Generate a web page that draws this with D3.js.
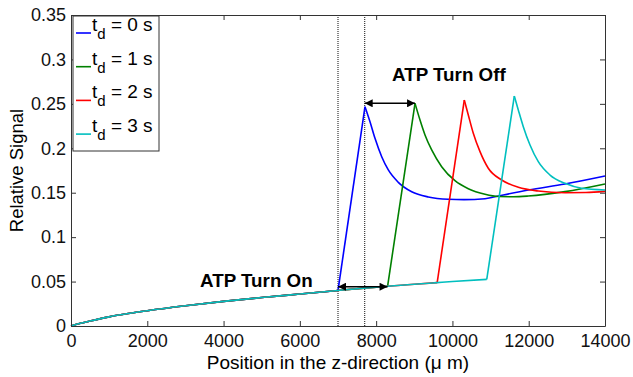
<!DOCTYPE html>
<html>
<head>
<meta charset="utf-8">
<script src="https://cdn.jsdelivr.net/npm/d3@7"></script>
<style>
  body { margin: 0; background: #fff; }
  svg { font-family: "Liberation Sans", Arial, sans-serif; }
  .axis path, .axis line { stroke: #333; }
  .axis text { font-size: 18px; fill: #111; }
</style>
</head>
<body>
<svg width="633" height="377"></svg>
<script>
// shared baseline before ATP turns on (position in um, relative signal)
const baseline = [
  [0, 0], [250, 0.003], [500, 0.0056], [1000, 0.0103], [1500, 0.014],
  [2000, 0.0172], [3000, 0.0228], [4000, 0.0277], [5000, 0.032],
  [6000, 0.036], [7000, 0.0400], [8000, 0.0437], [8300, 0.0447],
  [9000, 0.047], [9600, 0.0488], [10000, 0.050], [10900, 0.0525]
];

const delays = ["0", "1", "2", "3"];
const colors = ["#0000ff", "#008000", "#ff0000", "#00bfbf"];

// onset, peak, then decay points for each delay
const td0 = [
  [7000, 0.040], [7708, 0.2468],
  [7839, 0.2299], [7970, 0.2112], [8146, 0.1905], [8319, 0.1756],
  [8581, 0.1617], [8932, 0.1511], [9367, 0.1452], [9892, 0.1426],
  [10300, 0.1422], [10854, 0.1432], [11116, 0.1455], [11989, 0.153],
  [12951, 0.1598], [14000, 0.1688]
];
const td1 = [
  [8300, 0.0447], [9019, 0.2506],
  [9150, 0.2318], [9281, 0.215], [9456, 0.1981], [9718, 0.1793],
  [10067, 0.1635], [10416, 0.1545], [10854, 0.1482], [11207, 0.1457],
  [11600, 0.1455], [11989, 0.1463], [12951, 0.1512], [14000, 0.1598]
];
const td2 = [
  [9600, 0.0488], [10311, 0.2543],
  [10416, 0.2375], [10547, 0.2169], [10723, 0.1962], [10940, 0.1775],
  [11291, 0.1643], [11727, 0.1561], [12251, 0.1519], [12951, 0.150],
  [13500, 0.1502], [14000, 0.1515]
];
const td3 = [
  [10900, 0.0525], [11622, 0.2588],
  [11727, 0.2431], [11858, 0.2243], [12034, 0.2037], [12251, 0.1849],
  [12558, 0.1699], [12951, 0.1606], [13388, 0.155], [14000, 0.1531]
];
const series = [td0, td1, td2, td3];

const xTicks = [0, 2000, 4000, 6000, 8000, 10000, 12000, 14000];
const yTicks = [0, 0.05, 0.1, 0.15, 0.2, 0.25, 0.3, 0.35];

const onTimes = [7000, 7700];   // dotted markers
const turnOn = { x0: 7000, x1: 8300, y: 0.0442 };
const turnOff = { x0: 7700, x1: 9020, y: 0.2506 };

const svg = d3.select("svg");
const x = d3.scaleLinear().domain([0, 14000]).range([71, 605]);
const y = d3.scaleLinear().domain([0, 0.35]).range([326, 15]);

// dotted vertical lines
svg.selectAll(".vline")
  .data(onTimes)
  .enter().append("line")
    .attr("x1", d => x(d)).attr("x2", d => x(d))
    .attr("y1", y(0.35)).attr("y2", y(0))
    .attr("stroke", "#222").attr("stroke-width", 1.1)
    .attr("stroke-dasharray", "1,1");

// curves: smooth baseline, straight rise, smooth decay
const smooth = d3.line().x(d => x(d[0])).y(d => y(d[1])).curve(d3.curveMonotoneX);
const straight = d3.line().x(d => x(d[0])).y(d => y(d[1]));
series.forEach((s, i) => {
  const parts = [
    [smooth, baseline.filter(p => p[0] < s[0][0]).concat([s[0]])],
    [straight, s.slice(0, 2)],
    [smooth, s.slice(1)]
  ];
  parts.forEach(([gen, pts]) => {
    svg.append("path")
      .datum(pts)
      .attr("fill", "none")
      .attr("stroke", colors[i])
      .attr("stroke-width", 1.6)
      .attr("stroke-linejoin", "round")
      .attr("d", gen);
  });
});

// arrows
const defs = svg.append("defs");
["start", "end"].forEach(k => {
  defs.append("marker")
    .attr("id", "arr-" + k)
    .attr("viewBox", "0 0 10 10")
    .attr("refX", k === "end" ? 10 : 0).attr("refY", 5)
    .attr("markerWidth", 10).attr("markerHeight", 8)
    .attr("markerUnits", "userSpaceOnUse")
    .attr("orient", "auto")
    .append("path")
      .attr("d", k === "end" ? "M0,0L10,5L0,10Z" : "M10,0L0,5L10,10Z")
      .attr("fill", "#000");
});
[turnOn, turnOff].forEach(a => {
  svg.append("line")
    .attr("x1", x(a.x0)).attr("x2", x(a.x1))
    .attr("y1", y(a.y)).attr("y2", y(a.y))
    .attr("stroke", "#000").attr("stroke-width", 1.5)
    .attr("marker-start", "url(#arr-start)")
    .attr("marker-end", "url(#arr-end)");
});

svg.append("text")
  .attr("x", 200).attr("y", 287)
  .attr("font-size", 18.8).attr("font-weight", "bold")
  .text("ATP Turn On");
svg.append("text")
  .attr("x", 392).attr("y", 81)
  .attr("font-size", 18.8).attr("font-weight", "bold")
  .text("ATP Turn Off");

// axes with inward ticks on all sides
svg.append("g")
  .attr("class", "axis")
  .attr("transform", `translate(0,${y(0)})`)
  .call(d3.axisBottom(x).tickValues(xTicks).tickSizeInner(-5).tickSizeOuter(0)
    .tickPadding(8).tickFormat(d3.format("d")));
svg.append("g")
  .attr("class", "axis")
  .attr("transform", `translate(${x(0)},0)`)
  .call(d3.axisLeft(y).tickValues(yTicks).tickSizeInner(-5).tickSizeOuter(0)
    .tickPadding(5).tickFormat(d => d === 0 ? "0" : d3.format("")(+d.toFixed(2))));
svg.append("g")
  .attr("class", "axis")
  .attr("transform", `translate(0,${y(0.35)})`)
  .call(d3.axisTop(x).tickValues(xTicks).tickSizeInner(-5).tickSizeOuter(0).tickFormat(""));
svg.append("g")
  .attr("class", "axis")
  .attr("transform", `translate(${x(14000)},0)`)
  .call(d3.axisRight(y).tickValues(yTicks).tickSizeInner(-5).tickSizeOuter(0).tickFormat(""));

// axis titles
svg.append("text")
  .attr("x", (x(0) + x(14000)) / 2).attr("y", 369)
  .attr("text-anchor", "middle").attr("font-size", 19)
  .text("Position in the z-direction (\u03bc m)");
svg.append("text")
  .attr("transform", `translate(23,${(y(0) + y(0.35)) / 2}) rotate(-90)`)
  .attr("text-anchor", "middle").attr("font-size", 18.5)
  .text("Relative Signal");

// legend
const lg = svg.append("g");
lg.append("rect")
  .attr("x", 73).attr("y", 16).attr("width", 86).attr("height", 135)
  .attr("fill", "#fff").attr("stroke", "#333").attr("stroke-width", 1);
delays.forEach((d, i) => {
  const cy = 33 + i * 33.7;
  lg.append("line")
    .attr("x1", 76).attr("x2", 91).attr("y1", cy).attr("y2", cy)
    .attr("stroke", colors[i]).attr("stroke-width", 1.6);
  const t = lg.append("text").attr("x", 92).attr("y", cy - 2).attr("font-size", 19);
  t.append("tspan").text("t");
  t.append("tspan").attr("dy", 8).attr("font-size", 15).text("d");
  t.append("tspan").attr("dy", -8).text(` = ${d} s`);
});
</script>
</body>
</html>
